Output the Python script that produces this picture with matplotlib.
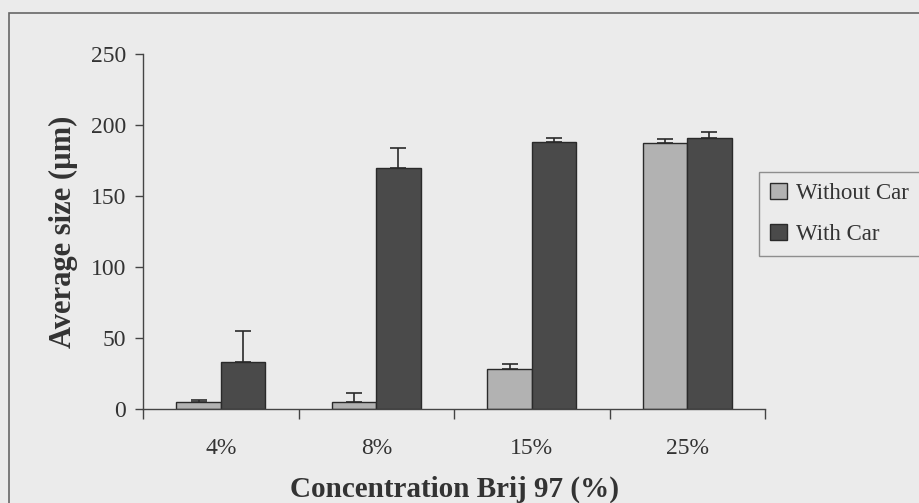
import matplotlib
matplotlib.use("Agg")
import matplotlib.pyplot as plt
import numpy as np
from matplotlib.patches import Rectangle

categories = ["4%", "8%", "15%", "25%"]
without_car = [5, 5, 28, 187]
without_err = [1.5, 6, 4, 3]
with_car = [33, 170, 188, 191]
with_err = [22, 14, 3, 4]
yticks = [0, 50, 100, 150, 200, 250]

plt.rcParams['font.family'] = ['Liberation Serif', 'DejaVu Serif']
bg = '#ebebeb'
fig = plt.figure(figsize=(9.19, 5.03), dpi=100, facecolor=bg)
ax = fig.add_axes([143/919, 1 - 409/503, 622/919, 355/503], facecolor=bg)

x = np.arange(len(categories))
w = 0.285
ax.bar(x - w/2, without_car, w, color='#b2b2b2', edgecolor='#2a2a2a', linewidth=1.0,
       yerr=[np.zeros(4), without_err], error_kw=dict(ecolor='#2a2a2a', capsize=6, elinewidth=1.2, capthick=1.2),
       label='Without Car', zorder=2)
ax.bar(x + w/2, with_car, w, color='#4a4a4a', edgecolor='#2a2a2a', linewidth=1.0,
       yerr=[np.zeros(4), with_err], error_kw=dict(ecolor='#2a2a2a', capsize=6, elinewidth=1.2, capthick=1.2),
       label='With Car', zorder=2)

ax.set_xlim(-0.5, 3.5)
ax.set_ylim(0, 250)
ax.set_yticks(yticks)
ax.set_yticklabels([str(v) for v in yticks], fontsize=17, color='#333333')
ax.set_xticks(x)
ax.set_xticklabels(categories, fontsize=17, color='#333333')
ax.set_xticks(np.arange(-0.5, 4.0, 1.0), minor=True)
ax.tick_params(axis='x', which='major', length=0, pad=21)
ax.tick_params(axis='x', which='minor', length=7, width=1, color='#444444', direction='out')
ax.tick_params(axis='y', length=6, width=1, color='#444444', direction='out', pad=6)
for s in ['top', 'right']:
    ax.spines[s].set_visible(False)
for s in ['left', 'bottom']:
    ax.spines[s].set_color('#444444')
    ax.spines[s].set_linewidth(1)

ax.set_ylabel('Average size (µm)', fontsize=22, fontweight='bold', color='#333333', labelpad=9)
ax.set_xlabel('Concentration Brij 97 (%)', fontsize=21, fontweight='bold', color='#333333', labelpad=12)

leg = fig.legend(loc='upper left', bbox_to_anchor=(759/919, 1 - 172/503), frameon=True, fancybox=False,
                 fontsize=16.5, handlelength=0.7, handleheight=0.7, handletextpad=0.4,
                 borderpad=0.5, labelspacing=0.85, borderaxespad=0, edgecolor='#777777', facecolor=bg)
for t in leg.get_texts():
    t.set_color('#333333')

fig.patches.append(Rectangle((8.5/919, -0.1), 1.2, 1 - 13/503 + 0.1, transform=fig.transFigure,
                             fill=False, edgecolor='#666666', linewidth=1.2))

fig.savefig('out.png', dpi=100, facecolor=bg)
